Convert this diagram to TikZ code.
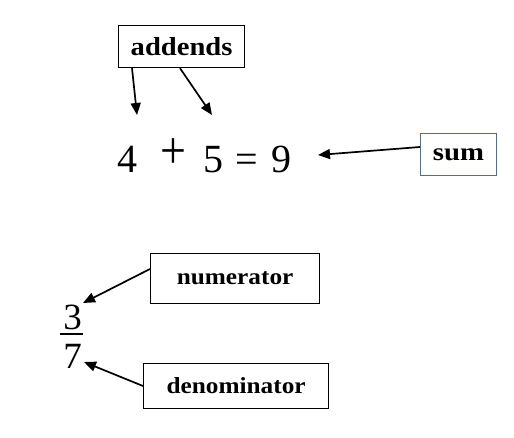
\documentclass[tikz,border=0pt]{standalone}
\usepackage{fontspec}
\usepackage{graphicx}
\setmainfont{Liberation Serif}
\usetikzlibrary{arrows.meta}
\tikzset{
  lblbox/.style={draw=black, line width=1.2pt, inner sep=0pt, anchor=north west},
  sumbox/.style={draw=sumblue, line width=1pt, inner sep=0pt, anchor=north west},
  arr/.style={line width=1.7pt, -{Triangle[length=12pt,width=10pt]}},
  eq/.style={inner sep=0pt, anchor=base, font=\fontsize{40}{48}\selectfont},
  frac/.style={inner sep=0pt, anchor=base, font=\fontsize{37}{44}\selectfont}
}
\definecolor{sumblue}{HTML}{41719C}
\begin{document}
\begin{tikzpicture}[x=1pt,y=-1pt]
\useasboundingbox (0,0) rectangle (514,438);
% boxes
\node[lblbox, minimum width=126pt, minimum height=42pt] (add) at (118,25)
  {\fontsize{26}{30}\selectfont\bfseries\scalebox{1.1}[1]{addends}};
\node[sumbox, minimum width=76pt, minimum height=42pt] (sum) at (420,133)
  {\fontsize{25}{30}\selectfont\bfseries\scalebox{1.15}[1]{sum}};
\node[lblbox, minimum width=169pt, minimum height=50pt] (num) at (150,253)
  {\fontsize{23}{28}\selectfont\bfseries\scalebox{1.1}[1]{numerator}};
\node[lblbox, minimum width=185pt, minimum height=45pt] (den) at (143,363)
  {\fontsize{23}{28}\selectfont\bfseries\scalebox{1.1}[1]{denominator}};
% equation
\node[eq] (d4) at (127.5,173) {4};
\node[inner sep=0pt, anchor=base, font=\fontsize{46}{50}\selectfont] (plus) at (173.5,169) {\scalebox{1}[1.15]{+}};
\node[eq] (d5) at (213,173) {5};
\node[eq] (eqs) at (247,173) {=};
\node[eq] (d9) at (281,173) {9};
% fraction
\node[frac] (n3) at (72.5,330) {3};
\node[frac] (n7) at (72.5,368) {7};
\coordinate (ul1) at (60,334);
\coordinate (ul2) at (83,334);
\draw[line width=1.3pt] (ul1) -- (ul2);
% arrow targets
\coordinate (t1) at (137,115);
\coordinate (t2) at (212,115);
\coordinate (t3) at (318,155);
\coordinate (t4) at (83,303);
\coordinate (t5) at (84,362);
% arrows
\draw[arr] ([xshift=14pt]add.south west) -- (t1);
\draw[arr] ([xshift=62pt]add.south west) -- (t2);
\draw[arr] ([yshift=-14pt]sum.north west) -- (t3);
\draw[arr] ([yshift=-16pt]num.north west) -- (t4);
\draw[arr] ([yshift=-23pt]den.north west) -- (t5);
\end{tikzpicture}
\end{document}
